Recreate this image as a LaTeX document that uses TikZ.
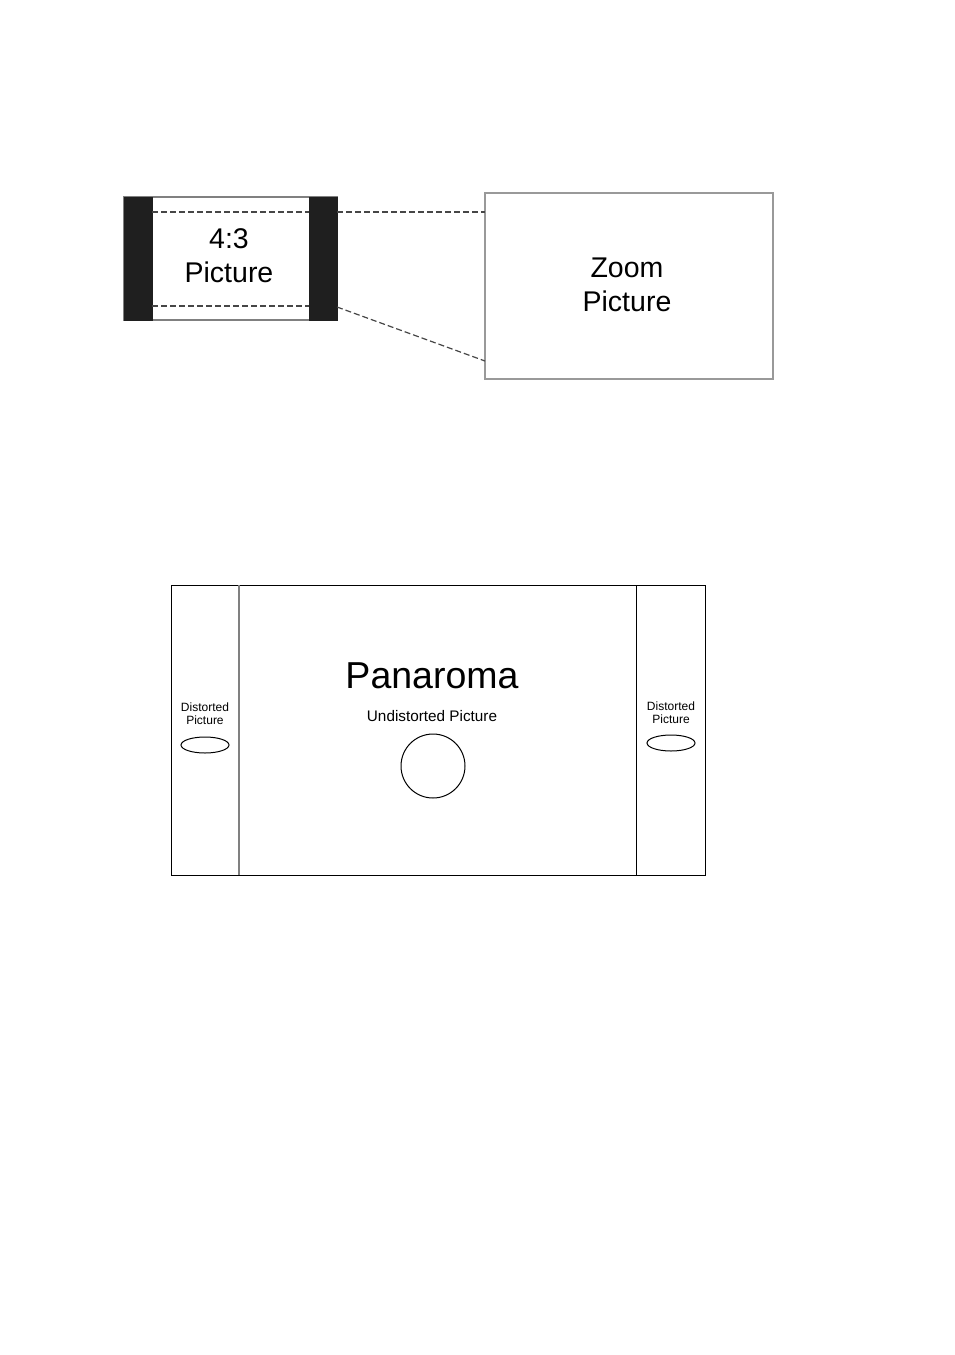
\documentclass[tikz,border=0pt]{standalone}
\usepackage{fontspec}
\setmainfont{Liberation Sans}
\usetikzlibrary{positioning}
\definecolor{edgegray}{RGB}{128,128,128}
\definecolor{dashgray}{RGB}{70,70,70}
\tikzstyle{frame}=[rectangle, draw=edgegray, line width=1.2, inner sep=0]
\tikzstyle{bar}=[rectangle, fill=black!88, draw=black!88, inner sep=0, minimum width=28, minimum height=123]
\tikzstyle{guide}=[dashed, draw=dashgray, line width=1.2, dash pattern=on 6 off 3]
\tikzstyle{label}=[inner sep=0, align=center]
\tikzstyle{blob}=[ellipse, draw=black, line width=1.0, inner sep=0]
\usetikzlibrary{shapes.geometric}

\begin{document}
\begin{tikzpicture}[x=1pt, y=-1pt]
            \useasboundingbox (0,0) rectangle (954,1355);
            % top: 4:3 picture and zoom
            \node [style=frame, minimum width=213, minimum height=123] (small) at (230.5, 258.5) {};
            \node [style=bar] (barL) at (138, 258.5) {};
            \node [style=bar] (barR) at (323, 258.5) {};
            \node [style=label, font=\fontsize{28.5}{34}\selectfont] (smalltext) at (229, 256) {4:3\\Picture};
            \node [style=frame, draw=edgegray!80, minimum width=288, minimum height=186] (zoom) at (629, 286) {};
            \node [style=label, font=\fontsize{28.5}{34}\selectfont] (zoomtext) at (627, 285) {Zoom\\Picture};

            \coordinate (A) at (152, 212);
            \coordinate (B) at (309, 212);
            \coordinate (C) at (152, 306);
            \coordinate (D) at (309, 306);
            \coordinate (E) at (337, 212);
            \coordinate (F) at (485, 212);
            \coordinate (G) at (337, 307);
            \coordinate (H) at (485, 361);

            \draw [style=guide] (A) -- (B);
            \draw [style=guide] (C) -- (D);
            \draw [style=guide] (E) -- (F);
            \draw [style=guide] (G) -- (H);

            % bottom: panorama
            \node [rectangle, draw=black, line width=1.0, inner sep=0, minimum width=534, minimum height=290] (pano) at (438, 730) {};
            \coordinate (P) at (239, 585);
            \coordinate (Q) at (239, 875);
            \coordinate (R) at (636, 585);
            \coordinate (S) at (636, 875);
            \draw [draw=edgegray, line width=1.4] (P) -- (Q);
            \draw [draw=black, line width=1.0] (R) -- (S);

            \node [style=label, font=\fontsize{37.5}{40}\selectfont] (title) at (432, 676) {Panaroma};
            \node [style=label, font=\fontsize{15.3}{17}\selectfont] (undist) at (432, 716) {Undistorted Picture};
            \node [circle, draw=black, line width=1.0, inner sep=0, minimum size=64] (round) at (433, 766) {};

            \node [style=label, font=\fontsize{12}{13.5}\selectfont] (distL) at (205, 713.5) {Distorted\\Picture};
            \node [style=blob, minimum width=48, minimum height=16] (ovalL) at (205, 745) {};
            \node [style=label, font=\fontsize{12}{13.5}\selectfont] (distR) at (671, 712.5) {Distorted\\Picture};
            \node [style=blob, minimum width=48, minimum height=16] (ovalR) at (671, 743) {};
        \end{tikzpicture}
\end{document}
